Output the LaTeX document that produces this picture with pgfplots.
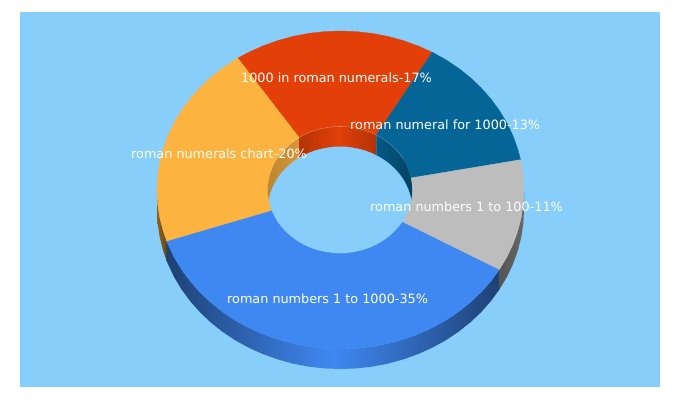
\documentclass[border=0pt]{standalone}
\usepackage{fontspec}
\setmainfont{DejaVu Sans}
\usepackage{pgfplots}
\pgfplotsset{compat=1.18}
\definecolor{bg}{HTML}{87CEFA}
\definecolor{cblue}{HTML}{3F88F2}
\definecolor{corange}{HTML}{FDB340}
\definecolor{cred}{HTML}{E24008}
\definecolor{cdark}{HTML}{056596}
\definecolor{cgrey}{HTML}{BDBDBD}
\begin{document}
\begin{tikzpicture}[lab/.style={text=white, font=\fontsize{12.8}{15}\selectfont, inner sep=0pt}]
\begin{axis}[scale only axis, width=680pt, height=400pt,
  xmin=0, xmax=680, ymin=0, ymax=400, y dir=reverse, hide axis, no markers,
  every axis plot/.append style={line width=0.3pt}]
% page and panel
\addplot[fill=white, draw=none] coordinates {(0,0) (680,0) (680,400) (0,400)} --cycle;
\addplot[fill=bg, draw=none] coordinates {(20,12) (659.5,12) (659.5,387) (20,387)} --cycle;

% outer walls
\addplot[draw=none, left color=cblue!48!black, right color=cblue!48!black, middle color=cblue] coordinates {
(499.4,269.5) (490.8,281.2) (481.1,292.2) (470.3,302.4) (458.5,311.8) (445.8,320.3) (432.3,327.7) (418.0,334.1) (403.3,339.4) (388.0,343.6) (372.4,346.6) (356.5,348.4) (340.5,349.0) (324.5,348.4) (308.6,346.6) (293.0,343.6) (277.7,339.4) (263.0,334.1) (248.7,327.7) (235.2,320.3) (222.5,311.8) (210.7,302.4) (199.9,292.2) (190.2,281.2) (181.6,269.5) (174.2,257.2) (168.1,244.4) (166.7,241.0)
(166.7,261.0) (168.1,264.4) (174.2,277.2) (181.6,289.5) (190.2,301.2) (199.9,312.2) (210.7,322.4) (222.5,331.8) (235.2,340.3) (248.7,347.7) (263.0,354.1) (277.7,359.4) (293.0,363.6) (308.6,366.6) (324.5,368.4) (340.5,369.0) (356.5,368.4) (372.4,366.6) (388.0,363.6) (403.3,359.4) (418.0,354.1) (432.3,347.7) (445.8,340.3) (458.5,331.8) (470.3,322.4) (481.1,312.2) (490.8,301.2) (499.4,289.5)
} --cycle;
\addplot[draw=none, left color=corange!55!black, right color=corange!40!black] coordinates {
(157.0,190.0) (157.7,203.9) (159.8,217.6) (163.3,231.1) (166.7,241.0)
(166.7,261.0) (163.3,251.1) (159.8,237.6) (157.7,223.9) (157.0,210.0)
} --cycle;
\addplot[draw=none, left color=cgrey!45!black, right color=cgrey!55!black] coordinates {
(524.0,190.0) (523.3,203.9) (521.2,217.6) (517.7,231.1) (512.9,244.4) (506.8,257.2) (499.4,269.5)
(499.4,289.5) (506.8,277.2) (512.9,264.4) (517.7,251.1) (521.2,237.6) (523.3,223.9) (524.0,210.0)
} --cycle;

% inner walls
\addplot[draw=none, left color=corange!75!black, right color=corange!85!black] coordinates {
(267.5,190.0) (267.8,184.5) (268.6,179.0) (270.0,173.6) (271.9,168.3) (274.3,163.2) (277.2,158.2) (280.6,153.6) (284.5,149.2) (288.7,145.1) (293.4,141.4) (298.4,138.0) (299.6,137.3)
(299.6,157.3) (298.4,158.0) (293.4,161.4) (288.7,165.1) (284.5,169.2) (280.6,173.6) (277.2,178.2) (274.3,183.2) (271.9,188.3) (270.0,193.6) (268.6,199.0) (267.8,204.5) (267.5,210.0)
} --cycle;
\addplot[draw=none, left color=cred!80!black, right color=cred!80!black, middle color=cred] coordinates {
(299.6,137.3) (303.7,135.0) (309.4,132.4) (315.2,130.3) (321.2,128.7) (327.4,127.5) (333.7,126.7) (340.0,126.5) (346.3,126.7) (352.6,127.5) (358.8,128.7) (364.8,130.3) (370.6,132.4) (376.3,135.0)
(376.3,155.0) (370.6,152.4) (364.8,150.3) (358.8,148.7) (352.6,147.5) (346.3,146.7) (340.0,146.5) (333.7,146.7) (327.4,147.5) (321.2,148.7) (315.2,150.3) (309.4,152.4) (303.7,155.0) (299.6,157.3)
} --cycle;
\addplot[draw=none, left color=cdark!88!black, right color=cdark!65!black] coordinates {
(376.3,135.0) (381.6,138.0) (386.6,141.4) (391.3,145.1) (395.5,149.2) (399.4,153.6) (402.8,158.2) (405.7,163.2) (408.1,168.3) (410.0,173.6) (411.4,179.0) (412.2,184.5) (412.5,190.0)
(412.5,210.0) (412.2,204.5) (411.4,199.0) (410.0,193.6) (408.1,188.3) (405.7,183.2) (402.8,178.2) (399.4,173.6) (395.5,169.2) (391.3,165.1) (386.6,161.4) (381.6,158.0) (376.3,155.0)
} --cycle;

% top faces
\addplot[fill=cblue, draw=cblue] coordinates {
(499.4,269.5) (490.8,281.2) (481.1,292.2) (470.3,302.4) (458.5,311.8) (445.8,320.3) (432.3,327.7) (418.0,334.1) (403.3,339.4) (388.0,343.6) (372.4,346.6) (356.5,348.4) (340.5,349.0) (324.5,348.4) (308.6,346.6) (293.0,343.6) (277.7,339.4) (263.0,334.1) (248.7,327.7) (235.2,320.3) (222.5,311.8) (210.7,302.4) (199.9,292.2) (190.2,281.2) (181.6,269.5) (174.2,257.2) (168.1,244.4) (166.7,241.0)
(271.3,210.4) (271.9,211.7) (274.3,216.8) (277.2,221.8) (280.6,226.4) (284.5,230.8) (288.7,234.9) (293.4,238.6) (298.4,242.0) (303.7,245.0) (309.4,247.6) (315.2,249.7) (321.2,251.3) (327.4,252.5) (333.7,253.3) (340.0,253.5) (346.3,253.3) (352.6,252.5) (358.8,251.3) (364.8,249.7) (370.6,247.6) (376.3,245.0) (381.6,242.0) (386.6,238.6) (391.3,234.9) (395.5,230.8) (399.4,226.4) (402.8,221.8)
} --cycle;
\addplot[fill=corange, draw=corange] coordinates {
(166.7,241.0) (163.3,231.1) (159.8,217.6) (157.7,203.9) (157.0,190.0) (157.7,176.1) (159.8,162.4) (163.3,148.9) (168.1,135.6) (174.2,122.8) (181.6,110.5) (190.2,98.8) (199.9,87.8) (210.7,77.6) (222.5,68.2) (235.2,59.7) (238.3,57.9)
(299.6,137.3) (298.4,138.0) (293.4,141.4) (288.7,145.1) (284.5,149.2) (280.6,153.6) (277.2,158.2) (274.3,163.2) (271.9,168.3) (270.0,173.6) (268.6,179.0) (267.8,184.5) (267.5,190.0) (267.8,195.5) (268.6,201.0) (270.0,206.4) (271.3,210.4)
} --cycle;
\addplot[fill=cred, draw=cred] coordinates {
(238.3,57.9) (248.7,52.3) (263.0,45.9) (277.7,40.6) (293.0,36.4) (308.6,33.4) (324.5,31.6) (340.5,31.0) (356.5,31.6) (372.4,33.4) (388.0,36.4) (403.3,40.6) (418.0,45.9) (432.3,52.3)
(376.3,135.0) (370.6,132.4) (364.8,130.3) (358.8,128.7) (352.6,127.5) (346.3,126.7) (340.0,126.5) (333.7,126.7) (327.4,127.5) (321.2,128.7) (315.2,130.3) (309.4,132.4) (303.7,135.0) (299.6,137.3)
} --cycle;
\addplot[fill=cdark, draw=cdark] coordinates {
(432.3,52.3) (445.8,59.7) (458.5,68.2) (470.3,77.6) (481.1,87.8) (490.8,98.8) (499.4,110.5) (506.8,122.8) (512.9,135.6) (517.7,148.9) (520.6,159.7)
(411.2,177.9) (410.0,173.6) (408.1,168.3) (405.7,163.2) (402.8,158.2) (399.4,153.6) (395.5,149.2) (391.3,145.1) (386.6,141.4) (381.6,138.0) (376.3,135.0)
} --cycle;
\addplot[fill=cgrey, draw=cgrey] coordinates {
(520.6,159.7) (521.2,162.4) (523.3,176.1) (524.0,190.0) (523.3,203.9) (521.2,217.6) (517.7,231.1) (512.9,244.4) (506.8,257.2) (499.4,269.5)
(402.8,221.8) (405.7,216.8) (408.1,211.7) (410.0,206.4) (411.4,201.0) (412.2,195.5) (412.5,190.0) (412.2,184.5) (411.4,179.0) (411.2,177.9)
} --cycle;

% faint rim along the back of the hole
\addplot[draw=white, draw opacity=0.22, line width=0.6pt] coordinates {
(277.2,158.2) (280.6,153.6) (284.5,149.2) (288.7,145.1) (293.4,141.4) (298.4,138.0) (299.6,137.3) (303.7,135.0) (309.4,132.4) (315.2,130.3) (321.2,128.7) (327.4,127.5) (333.7,126.7) (340.0,126.5) (346.3,126.7) (352.6,127.5) (358.8,128.7) (364.8,130.3) (370.6,132.4) (376.3,135.0) (381.6,138.0) (386.6,141.4) (391.3,145.1) (395.5,149.2) (399.4,153.6) (402.8,158.2)
};

% labels
\node[lab, anchor=west] at (axis cs:241,78) {1000 in roman numerals-17\%};
\node[lab, anchor=west] at (axis cs:350,125) {roman numeral for 1000-13\%};
\node[lab, anchor=west] at (axis cs:131,154) {roman numerals chart-20\%};
\node[lab, anchor=west] at (axis cs:370,207) {roman numbers 1 to 100-11\%};
\node[lab, anchor=west] at (axis cs:227,299) {roman numbers 1 to 1000-35\%};
\end{axis}
\end{tikzpicture}
\end{document}
